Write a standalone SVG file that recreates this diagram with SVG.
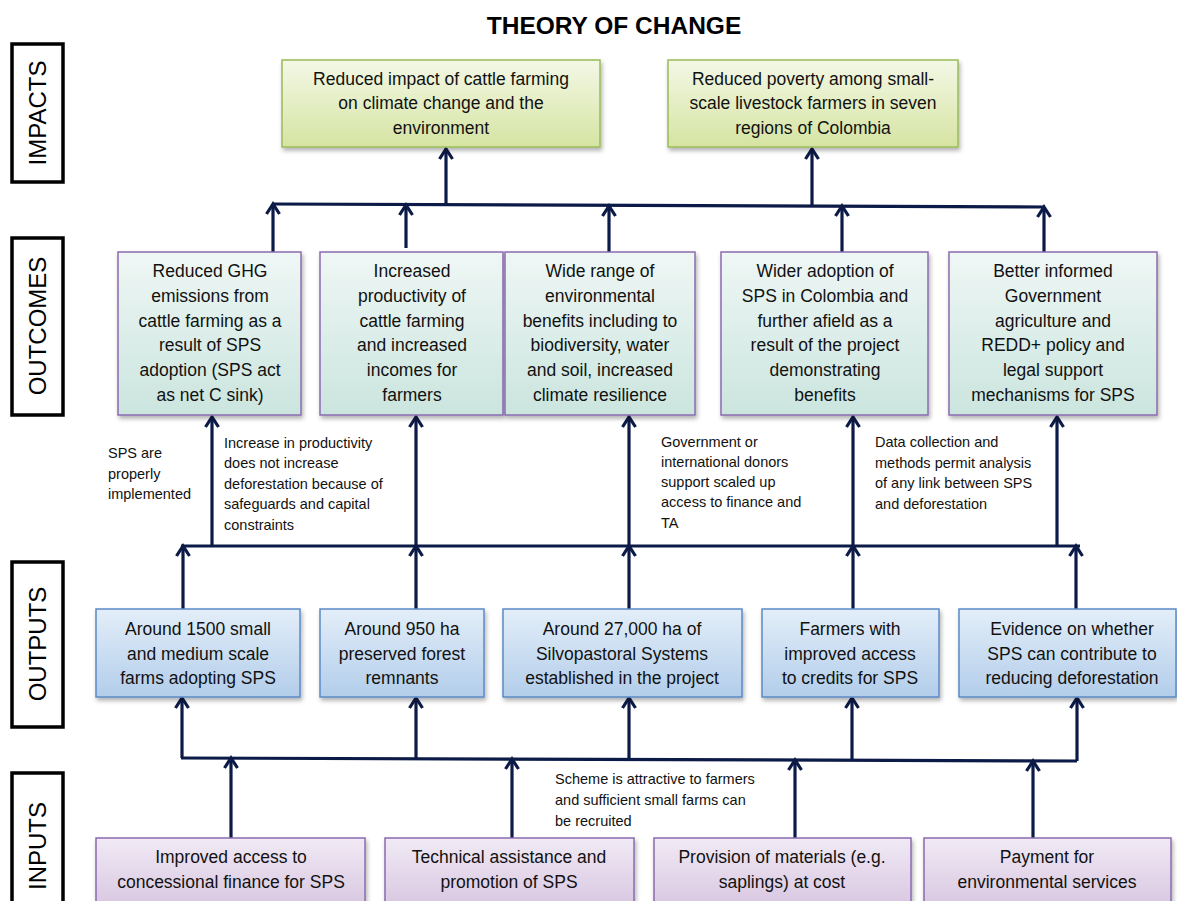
<svg xmlns="http://www.w3.org/2000/svg" width="1177" height="901" viewBox="0 0 1177 901">
<style>
.t{font-family:"Liberation Sans",Arial,sans-serif;font-size:17.5px;fill:#111;text-anchor:middle}
.a{font-family:"Liberation Sans",Arial,sans-serif;font-size:14.5px;fill:#111}
.side{font-family:"Liberation Sans",Arial,sans-serif;font-size:24px;fill:#000;text-anchor:middle}
.lab{fill:#fff;stroke:#000;stroke-width:3.5}
.imp{fill:url(#gI);stroke:#9bbb59;stroke-width:1.5;filter:url(#sh)}
.out{fill:url(#gO);stroke:#8a6bb0;stroke-width:1.5;filter:url(#sh)}
.opt{fill:url(#gP);stroke:#5b8ac6;stroke-width:1.5;filter:url(#sh)}
.inp{fill:url(#gN);stroke:#8a6bb0;stroke-width:1.5;filter:url(#sh)}
.c{stroke:#0c1a47;stroke-width:3.2;fill:none}
.ca{stroke:#0c1a47;stroke-width:3.2;fill:none;marker-end:url(#ah)}
</style>
<defs>
<linearGradient id="gI" x1="0" y1="0" x2="0" y2="1"><stop offset="0" stop-color="#f3f8e6"/><stop offset="1" stop-color="#d6e4a2"/></linearGradient>
<linearGradient id="gO" x1="0" y1="0" x2="0" y2="1"><stop offset="0" stop-color="#eff7f5"/><stop offset="1" stop-color="#cbe5de"/></linearGradient>
<linearGradient id="gP" x1="0" y1="0" x2="0" y2="1"><stop offset="0" stop-color="#e3eef9"/><stop offset="1" stop-color="#b2cdea"/></linearGradient>
<linearGradient id="gN" x1="0" y1="0" x2="0" y2="1"><stop offset="0" stop-color="#f1eaf5"/><stop offset="1" stop-color="#d6c3df"/></linearGradient>
<filter id="sh" x="-10%" y="-10%" width="125%" height="135%"><feDropShadow dx="1.5" dy="3" stdDeviation="2" flood-color="#000" flood-opacity="0.3"/></filter>
<marker id="ah" markerUnits="userSpaceOnUse" markerWidth="18" markerHeight="18" viewBox="0 0 18 18" refX="13" refY="9" orient="auto"><path d="M3,2.5 L13,9 L3,15.5" fill="none" stroke="#0c1a47" stroke-width="3.2"/></marker>
</defs>
<rect width="1177" height="901" fill="#fff"/>
<text x="614" y="34" style="font-family:'Liberation Sans',Arial,sans-serif;font-size:24.5px;font-weight:bold;text-anchor:middle;fill:#000">THEORY OF CHANGE</text>

<g id="side-labels">
<rect class="lab" x="12" y="44" width="51" height="138"/>
<text class="side" transform="translate(46,113) rotate(-90)">IMPACTS</text>
<rect class="lab" x="12" y="238" width="51" height="177"/>
<text class="side" transform="translate(46,326) rotate(-90)">OUTCOMES</text>
<rect class="lab" x="12" y="562" width="51" height="165"/>
<text class="side" transform="translate(46,644) rotate(-90)">OUTPUTS</text>
<rect class="lab" x="12" y="773" width="51" height="140"/>
<text class="side" transform="translate(46,846) rotate(-90)">INPUTS</text>
</g>

<g id="connectors">
<path class="c" d="M272,204 L1045,207"/>
<path class="ca" d="M446,204 V149"/>
<path class="ca" d="M812,206 V149"/>
<path class="ca" d="M273,252 V204"/>
<path class="ca" d="M406,248 V205"/>
<path class="ca" d="M609,252 V206"/>
<path class="ca" d="M842,252 V206"/>
<path class="ca" d="M1044,252 V207"/>
<path class="c" d="M181,546 H1080"/>
<path class="ca" d="M212,546 V417"/>
<path class="ca" d="M416,546 V417"/>
<path class="ca" d="M629,546 V417"/>
<path class="ca" d="M853,546 V417"/>
<path class="ca" d="M1057,546 V417"/>
<path class="ca" d="M183,609 V546"/>
<path class="ca" d="M416,609 V546"/>
<path class="ca" d="M629,609 V546"/>
<path class="ca" d="M853,609 V546"/>
<path class="ca" d="M1076,609 V546"/>
<path class="c" d="M181,758 L1077,761"/>
<path class="ca" d="M182,758 V698"/>
<path class="ca" d="M416,759 V698"/>
<path class="ca" d="M629,759 V698"/>
<path class="ca" d="M852,760 V698"/>
<path class="ca" d="M1077,761 V698"/>
<path class="ca" d="M231,838 V758"/>
<path class="ca" d="M512,838 V759"/>
<path class="ca" d="M795,838 V760"/>
<path class="ca" d="M1033,838 V761"/>
</g>

<g id="impact-1"><rect class="imp" x="282" y="60" width="318" height="87"/>
<text class="t" x="441" y="85">Reduced impact of cattle farming</text>
<text class="t" x="441" y="109">on climate change and the</text>
<text class="t" x="441" y="134">environment</text></g>
<g id="impact-2"><rect class="imp" x="668" y="60" width="290" height="87"/>
<text class="t" x="813" y="85">Reduced poverty among small-</text>
<text class="t" x="813" y="109">scale livestock farmers in seven</text>
<text class="t" x="813" y="134">regions of Colombia</text></g>

<g id="outcome-1"><rect class="out" x="118" y="252" width="183" height="163"/>
<text class="t" x="210" y="277">Reduced GHG</text><text class="t" x="210" y="302">emissions from</text><text class="t" x="210" y="327">cattle farming as a</text><text class="t" x="210" y="351">result of SPS</text><text class="t" x="210" y="376">adoption (SPS act</text><text class="t" x="210" y="401">as net C sink)</text></g>
<g id="outcome-2"><rect class="out" x="320" y="252" width="183" height="163"/>
<text class="t" x="412" y="277">Increased</text><text class="t" x="412" y="302">productivity of</text><text class="t" x="412" y="327">cattle farming</text><text class="t" x="412" y="351">and increased</text><text class="t" x="412" y="376">incomes for</text><text class="t" x="412" y="401">farmers</text></g>
<g id="outcome-3"><rect class="out" x="505" y="252" width="190" height="163"/>
<text class="t" x="600" y="277">Wide range of</text><text class="t" x="600" y="302">environmental</text><text class="t" x="600" y="327">benefits including to</text><text class="t" x="600" y="351">biodiversity,  water</text><text class="t" x="600" y="376">and soil, increased</text><text class="t" x="600" y="401">climate resilience</text></g>
<g id="outcome-4"><rect class="out" x="721" y="252" width="207" height="163"/>
<text class="t" x="825" y="277">Wider adoption of</text><text class="t" x="825" y="302">SPS in Colombia and</text><text class="t" x="825" y="327">further afield as a</text><text class="t" x="825" y="351">result of the project</text><text class="t" x="825" y="376">demonstrating</text><text class="t" x="825" y="401">benefits</text></g>
<g id="outcome-5"><rect class="out" x="949" y="252" width="208" height="163"/>
<text class="t" x="1053" y="277">Better informed</text><text class="t" x="1053" y="302">Government</text><text class="t" x="1053" y="327">agriculture and</text><text class="t" x="1053" y="351">REDD+ policy and</text><text class="t" x="1053" y="376">legal support</text><text class="t" x="1053" y="401">mechanisms for SPS</text></g>

<g id="assumption-1"><text class="a" x="108" y="458">SPS are</text><text class="a" x="108" y="479">properly</text><text class="a" x="108" y="499">implemented</text></g>
<g id="assumption-2"><text class="a" x="224" y="448">Increase in productivity</text><text class="a" x="224" y="468">does not increase</text><text class="a" x="224" y="489">deforestation because of</text><text class="a" x="224" y="509">safeguards and capital</text><text class="a" x="224" y="530">constraints</text></g>
<g id="assumption-3"><text class="a" x="661" y="447">Government or</text><text class="a" x="661" y="467">international donors</text><text class="a" x="661" y="487">support scaled up</text><text class="a" x="661" y="507">access to finance and</text><text class="a" x="661" y="528">TA</text></g>
<g id="assumption-4"><text class="a" x="875" y="447">Data collection and</text><text class="a" x="875" y="468">methods permit analysis</text><text class="a" x="875" y="488">of any link between SPS</text><text class="a" x="875" y="509">and deforestation</text></g>
<g id="assumption-5"><text class="a" x="555" y="784">Scheme is attractive to farmers</text><text class="a" x="555" y="805">and sufficient small farms can</text><text class="a" x="555" y="826">be recruited</text></g>

<g id="output-1"><rect class="opt" x="96" y="609" width="204" height="88"/>
<text class="t" x="198" y="635">Around 1500 small</text><text class="t" x="198" y="660">and medium scale</text><text class="t" x="198" y="684">farms adopting SPS</text></g>
<g id="output-2"><rect class="opt" x="320" y="609" width="164" height="88"/>
<text class="t" x="402" y="635">Around 950 ha</text><text class="t" x="402" y="660">preserved forest</text><text class="t" x="402" y="684">remnants</text></g>
<g id="output-3"><rect class="opt" x="503" y="609" width="239" height="88"/>
<text class="t" x="622" y="635">Around 27,000 ha of</text><text class="t" x="622" y="660">Silvopastoral Systems</text><text class="t" x="622" y="684">established in the project</text></g>
<g id="output-4"><rect class="opt" x="762" y="609" width="177" height="88"/>
<text class="t" x="850" y="635">Farmers with</text><text class="t" x="850" y="660">improved access</text><text class="t" x="850" y="684">to credits for SPS</text></g>
<g id="output-5"><rect class="opt" x="959" y="609" width="217" height="88"/>
<text class="t" x="1072" y="635">Evidence on whether</text><text class="t" x="1072" y="660">SPS can contribute to</text><text class="t" x="1072" y="684">reducing deforestation</text></g>

<g id="input-1"><rect class="inp" x="96" y="838" width="269" height="75"/>
<text class="t" x="231" y="863">Improved access to</text><text class="t" x="231" y="888">concessional finance for SPS</text></g>
<g id="input-2"><rect class="inp" x="385" y="838" width="249" height="75"/>
<text class="t" x="509" y="863">Technical assistance and</text><text class="t" x="509" y="888">promotion of SPS</text></g>
<g id="input-3"><rect class="inp" x="654" y="838" width="257" height="75"/>
<text class="t" x="782" y="863">Provision of materials (e.g.</text><text class="t" x="782" y="888">saplings) at cost</text></g>
<g id="input-4"><rect class="inp" x="924" y="838" width="247" height="75"/>
<text class="t" x="1047" y="863">Payment for</text><text class="t" x="1047" y="888">environmental services</text></g>
</svg>
